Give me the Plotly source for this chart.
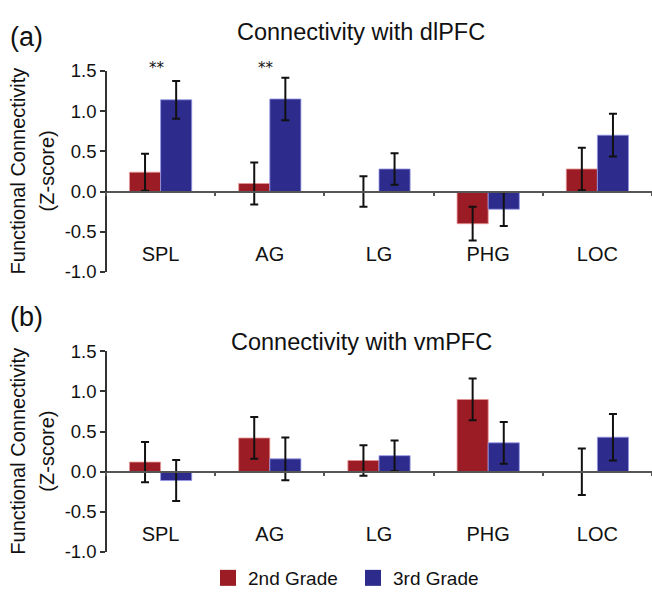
import plotly.graph_objects as go

regions = ["SPL", "AG", "LG", "PHG", "LOC"]

# Panel (a): Connectivity with dlPFC
dl_2nd = [0.24, 0.10, 0.00, -0.40, 0.28]
dl_2nd_err = [0.23, 0.26, 0.19, 0.21, 0.265]
dl_3rd = [1.14, 1.15, 0.28, -0.22, 0.70]
dl_3rd_err = [0.235, 0.265, 0.195, 0.21, 0.265]
dl_sig = ["**", "**", "", "", ""]
sig_level = 1.53

# Panel (b): Connectivity with vmPFC
vm_2nd = [0.12, 0.42, 0.14, 0.90, 0.00]
vm_2nd_err = [0.25, 0.26, 0.19, 0.26, 0.29]
vm_3rd = [-0.11, 0.16, 0.20, 0.36, 0.43]
vm_3rd_err = [0.255, 0.265, 0.19, 0.26, 0.29]

y_ticks = [-1.0, -0.5, 0.0, 0.5, 1.0, 1.5]
y_tick_labels = ["-1.0", "-0.5", "0.0", "0.5", "1.0", "1.5"]

RED = "#9B1C24"
BLUE = "#2D2C8C"
FONT = "Liberation Sans, Arial, sans-serif"
W, H = 652, 597

fig = go.Figure()

def add_panel(xa, ya, v2, e2, v3, e3):
    for vals, errs, col, line in [(v2, e2, RED, "rgba(230,150,150,0.8)"),
                                  (v3, e3, BLUE, "rgba(150,150,230,0.8)")]:
        fig.add_trace(go.Bar(
            x=regions, y=vals, xaxis=xa, yaxis=ya,
            marker=dict(color=col, line=dict(color=line, width=1)),
            error_y=dict(type="data", array=errs, color="#111111",
                         thickness=2, width=4),
            showlegend=False, hoverinfo="skip"))

add_panel("x", "y", dl_2nd, dl_2nd_err, dl_3rd, dl_3rd_err)
add_panel("x2", "y2", vm_2nd, vm_2nd_err, vm_3rd, vm_3rd_err)

# legend entries
for name, col in [("2nd Grade", RED), ("3rd Grade", BLUE)]:
    fig.add_trace(go.Scatter(x=[None], y=[None], mode="markers", name=name,
                             marker=dict(symbol="square", size=18, color=col),
                             xaxis="x2", yaxis="y2"))

YMIN, YMAX = -1.0, 1.5
dom_x = [106 / W, 1.0]
dom_top = [(H - 270.5) / H, (H - 62) / H]
dom_bot = [(H - 560.7) / H, (H - 352.7) / H]

def zero_pos(dom):
    return dom[0] + (0 - YMIN) / (YMAX - YMIN) * (dom[1] - dom[0])

def xaxis_cfg(dom):
    return dict(domain=dom_x, type="category", range=[-0.5, 4.5],
                anchor="free", position=zero_pos(dom),
                showline=True, linecolor="#555555", linewidth=1.5,
                ticks="outside", tickson="boundaries", ticklen=4,
                tickcolor="#555555", tickwidth=1.5,
                ticklabelstandoff=45,
                tickfont=dict(family=FONT, size=20, color="#111111"),
                showgrid=False, zeroline=False, fixedrange=True)

def yaxis_cfg(dom):
    return dict(domain=dom, range=[YMIN, YMAX], anchor="free", position=dom_x[0],
                tickvals=y_ticks, ticktext=y_tick_labels,
                showline=True, linecolor="#333333", linewidth=1.5,
                ticks="outside", ticklen=5, tickcolor="#333333", tickwidth=1.5,
                tickfont=dict(family=FONT, size=18.5, color="#111111"),
                showgrid=False, zeroline=False, fixedrange=True)

fig.update_layout(
    width=W, height=H,
    margin=dict(l=0, r=0, t=0, b=0),
    paper_bgcolor="white", plot_bgcolor="white",
    barmode="group", bargap=0.43, bargroupgap=0,
    font=dict(family=FONT, color="#111111"),
    xaxis=xaxis_cfg(dom_top),
    yaxis=yaxis_cfg(dom_top),
    xaxis2=xaxis_cfg(dom_bot),
    yaxis2=yaxis_cfg(dom_bot),
    legend=dict(orientation="h", x=208 / W, xanchor="left",
                y=(H - 588) / H, yanchor="middle",
                entrywidth=100, entrywidthmode="pixels",
                font=dict(family=FONT, size=19, color="#111111"),
                itemsizing="trace", bgcolor="rgba(0,0,0,0)"),
    showlegend=True,
)

ann = []
# panel labels and titles
for txt, y in [("(a)", 27), ("(b)", 317)]:
    ann.append(dict(text=txt, x=26 / W, y=(H - y) / H, xref="paper", yref="paper",
                    xanchor="center", yanchor="middle", showarrow=False,
                    font=dict(family=FONT, size=27, color="#111111")))
for txt, y in [("Connectivity with dlPFC", 22), ("Connectivity with vmPFC", 343)]:
    ann.append(dict(text=txt, x=361 / W, y=(H - y) / H, xref="paper", yref="paper",
                    xanchor="center", yanchor="middle", showarrow=False,
                    font=dict(family=FONT, size=23.5, color="#111111")))
# y-axis titles
for dom in (dom_top, dom_bot):
    mid = (dom[0] + dom[1]) / 2
    for txt, xpx in [("Functional Connectivity", 18), ("(Z-score)", 47)]:
        ann.append(dict(text=txt, x=xpx / W, y=mid, xref="paper", yref="paper",
                        xanchor="center", yanchor="middle", textangle=-90,
                        showarrow=False,
                        font=dict(family=FONT, size=20, color="#111111")))
# significance markers (panel a), positioned on the category axis / paper height
top_span = dom_top[1] - dom_top[0]
for i, (reg, s) in enumerate(zip(regions, dl_sig)):
    if s:
        xfrac = dom_x[0] + (i + 0.5) / len(regions) * (dom_x[1] - dom_x[0])
        yfrac = dom_top[0] + (sig_level - YMIN) / (YMAX - YMIN) * top_span
        ann.append(dict(text=s, x=xfrac, y=yfrac, xref="paper", yref="paper",
                        xshift=-4, xanchor="center", yanchor="middle",
                        showarrow=False,
                        font=dict(family="DejaVu Sans, sans-serif", size=15,
                                  color="#111111")))
fig.update_layout(annotations=ann)

fig.write_html("out.html")
